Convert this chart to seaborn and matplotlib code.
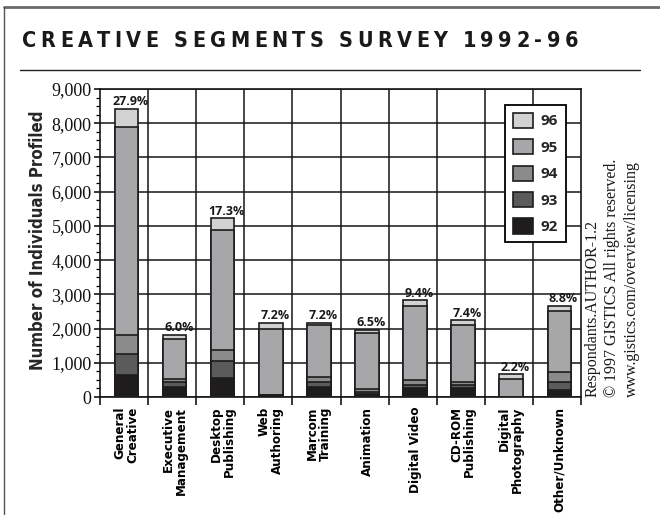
import numpy as np
import pandas as pd
import matplotlib
matplotlib.use("Agg")
import matplotlib.pyplot as plt
import seaborn as sns
from matplotlib import font_manager as fm
from matplotlib.patches import Patch
from matplotlib.lines import Line2D
from matplotlib.ticker import FixedLocator, MultipleLocator
from matplotlib.font_manager import FontProperties

# ---- data -------------------------------------------------------------
segments = ["General\nCreative", "Executive\nManagement", "Desktop\nPublishing",
            "Web\nAuthoring", "Marcom\nTraining", "Animation", "Digital Video",
            "CD-ROM\nPublishing", "Digital\nPhotography", "Other/Unknown"]
years = ["92", "93", "94", "95", "96"]

# respondents per survey year (stack segments, bottom to top)
resp_92 = [640, 280, 550, 30, 300, 100, 250, 250, 0, 200]
resp_93 = [610, 170, 500, 20, 130, 60, 100, 100, 0, 250]
resp_94 = [570, 80, 330, 20, 160, 70, 140, 80, 10, 270]
resp_95 = [6080, 1170, 3510, 1910, 1510, 1640, 2180, 1660, 520, 1790]
resp_96 = [520, 120, 330, 190, 70, 100, 150, 150, 140, 150]

y_ticks = list(range(0, 9001, 1000))
y_tick_labels = [f"{v:,}" for v in y_ticks]

colors = {"92": "#1f1c1d", "93": "#5b5b5c", "94": "#8b8b8c",
          "95": "#a7a7a9", "96": "#d2d2d3"}
edge = "#1c1c1c"

# ---- tidy table with cumulative stack tops --------------------------------
wide = pd.DataFrame({"segment": segments, "92": resp_92, "93": resp_93,
                     "94": resp_94, "95": resp_95, "96": resp_96})
tops = wide[years].cumsum(axis=1)
long = tops.assign(segment=wide["segment"]).melt(
    id_vars="segment", var_name="year", value_name="top")
totals = tops["96"].to_numpy()
grand_total = totals.sum()

# ---- fonts: a condensed bold sans for the headings ---------------------------
sns.set_theme(style="white")
installed = fm.fontManager.ttflist
if any(f.name == "Liberation Sans Narrow" for f in installed):
    sans, stretch, k = "Liberation Sans Narrow", "normal", 1.0
elif any(f.name == "DejaVu Sans" and f.stretch in ("condensed", "semi-condensed")
         for f in installed):
    sans, stretch, k = "DejaVu Sans", "condensed", 0.85
else:
    sans, stretch, k = "Liberation Sans", "normal", 0.86
plt.rcParams["font.family"] = [sans, "DejaVu Sans"]
plt.rcParams["font.stretch"] = stretch
serif = FontProperties(family=["Liberation Serif", "DejaVu Serif"],
                       stretch="normal", size=13)

W, H = 660, 515
fig = plt.figure(figsize=(W / 100, H / 100), dpi=100)
fig.patch.set_facecolor("white")
ax = fig.add_axes([100 / W, 118 / H, 481 / W, 308 / H])

# stacked bars: draw the tallest cumulative layer first, then cover downward
for yr in reversed(years):
    sns.barplot(data=long[long["year"] == yr], x="segment", y="top",
                order=segments, color=colors[yr], saturation=1, width=0.49,
                edgecolor=edge, linewidth=1.2, errorbar=None, ax=ax, zorder=3)

x_left, x_right = -0.55, 9.45
ax.set_xlim(x_left, x_right)
ax.set_ylim(0, 9000)

# grid: horizontal at thousands, vertical between segments
ax.grid(False)
for yv in y_ticks:
    ax.axhline(yv, color="#151515", lw=1.1, zorder=1)
bounds = np.arange(11) + x_left
for xv in bounds[1:-1]:
    ax.axvline(xv, color="#151515", lw=1.1, zorder=1)

for s in ax.spines.values():
    s.set_visible(True)
    s.set_color("#151515")
    s.set_linewidth(1.2)

# x axis: labels centred under bars, tick marks at segment boundaries
ax.set_xticks(range(len(segments)))
ax.set_xticklabels(segments, rotation=90, ha="center", va="top",
                   multialignment="right", fontweight="bold",
                   fontsize=11.2 * k, linespacing=1.0)
ax.xaxis.set_minor_locator(FixedLocator(bounds))
ax.tick_params(axis="x", which="major", length=0, pad=7, colors="black")
ax.tick_params(axis="x", which="minor", bottom=True, length=6, width=1.1,
               direction="out", color="black")
ax.set_xlabel("")

# y axis, serif numerals
ax.yaxis.set_minor_locator(MultipleLocator(250))
ax.tick_params(axis="y", which="major", left=True, length=4, width=1.1,
               direction="out", pad=2, color="black")
ax.tick_params(axis="y", which="minor", left=True, length=3, width=0.9,
               direction="out", color="black")
ax.set_yticks(y_ticks, labels=y_tick_labels, fontproperties=serif,
              color="#111111")
ax.set_ylabel("")

# share of all respondents above each bar
for i, tot in enumerate(totals):
    ax.annotate(f"{100 * tot / grand_total:.1f}%", xy=(i, tot),
                xytext=(3, 2.5), textcoords="offset points",
                ha="center", va="baseline", fontsize=9, fontweight="bold",
                family=["Open Sans", "DejaVu Sans"], stretch="normal",
                color="#1a1a1a", zorder=6)

# legend, newest year on top
handles = [Patch(facecolor=colors[yr], edgecolor=edge, linewidth=1.2, label=yr)
           for yr in reversed(years)]
leg = ax.legend(handles=handles, loc="upper left", bbox_to_anchor=(0.842, 0.948),
                frameon=True, fancybox=False, edgecolor="black", framealpha=1,
                prop=FontProperties(family=["Open Sans", "DejaVu Sans"],
                                    weight="bold", size=11, stretch="normal"),
                handlelength=1.35, handleheight=1.15, labelspacing=0.7,
                borderpad=0.5, handletextpad=0.5, borderaxespad=0)
leg.get_frame().set_linewidth(1.3)
leg.set_zorder(7)

# axis title
fig.text(38 / W, 1 - 240 / H, "Number of Individuals Profiled", rotation=90,
         ha="center", va="center", fontweight="bold", fontsize=14.2 * k)

# source notes along the right edge
notes = ["Respondants.AUTHOR-1.2",
         "\u00a9 1997 GISTICS All rights reserved.",
         "www.gistics.com/overview/licensing"]
for xpix, note in zip([593, 612, 632], notes):
    fig.text(xpix / W, 118 / H, note, rotation=90, ha="center", va="bottom",
             family=["Liberation Serif", "DejaVu Serif"], stretch="normal",
             fontsize=11.5, color="#1a1a1a")

# letter-spaced title
title = "CREATIVE SEGMENTS SURVEY 1992-96"
title_kw = dict(fontsize=15.5, fontweight="bold", color="#1a1a1a",
                va="baseline", ha="left")
renderer = fig.canvas.get_renderer()
x0_pix, x1_pix, base_pix = 22, 578, 47
widths = []
for ch in title:
    if ch == " ":
        widths.append(None)
        continue
    t = fig.text(0, 0, ch, **title_kw)
    widths.append(t.get_window_extent(renderer).width)
    t.remove()
space_w = 6.0
ink = sum(w if w is not None else space_w for w in widths)
tracking = (x1_pix - x0_pix - ink) / (len(title) - 1)
xp = x0_pix
for ch, w in zip(title, widths):
    if w is None:
        xp += space_w + tracking
        continue
    fig.text(xp / W, 1 - base_pix / H, ch, **title_kw)
    xp += w + tracking

# rule under the title and the page frame
fig.add_artist(Line2D([20 / W, 640 / W], [1 - 70 / H] * 2,
                      transform=fig.transFigure, color="#222222", lw=1.0))
fig.add_artist(Line2D([4 / W, 1], [1 - 6.5 / H] * 2,
                      transform=fig.transFigure, color="#6a6a6a", lw=2.0))
fig.add_artist(Line2D([4 / W] * 2, [0, 1 - 6.5 / H],
                      transform=fig.transFigure, color="#555555", lw=1.0))

fig.savefig("out.png", dpi=100, facecolor="white")
